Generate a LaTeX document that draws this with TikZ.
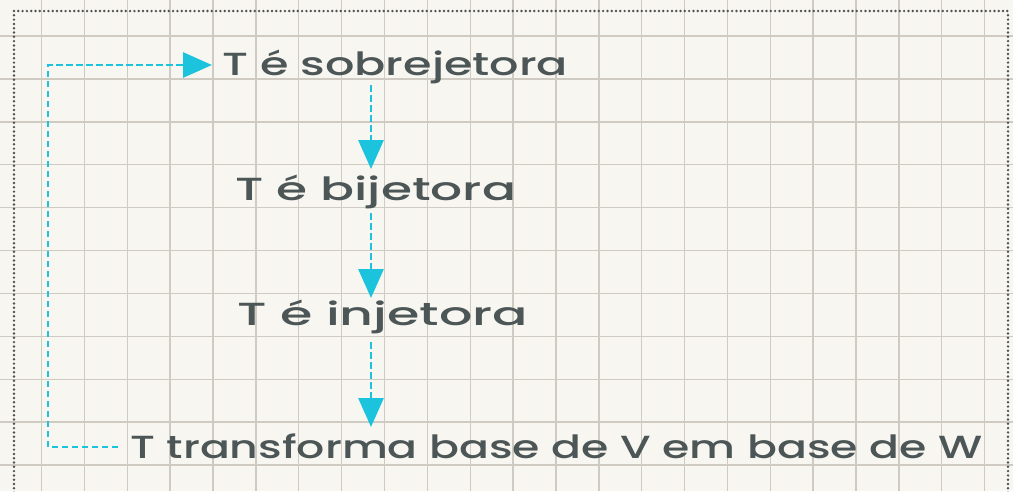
\documentclass[tikz,border=0pt]{standalone}
\usepackage{fontspec}
\usetikzlibrary{arrows.meta}
\newfontfamily\handfont{Poppins Medium}
% stretch a line of text to a given width, keeping its height
\newcommand{\handline}[2]{\resizebox{#1}{\height}{#2}}
\definecolor{paper}{HTML}{F8F6F1}
\definecolor{gridline}{HTML}{CFCAC2}
\definecolor{ink}{HTML}{4C5656}
\definecolor{flowcyan}{HTML}{1CC3DD}
\definecolor{bordergray}{HTML}{4D5353}
\tikzset{
  gridrule/.style={draw=gridline, line width=1.4pt},
  framedot/.style={fill=bordergray},
  hand/.style={inner sep=0pt, text=ink, font=\handfont\fontsize{32}{38}\selectfont},
  flow/.style={draw=flowcyan, line width=2.8pt, dash pattern=on 6.5pt off 3.5pt,
    -{Triangle[length=29pt,width=25pt,fill=flowcyan]}}
}
\begin{document}
\begin{tikzpicture}[x=1pt,y=-1pt]
  % paper
  \fill[paper] (0,0) rectangle (1013,491);
  \useasboundingbox (0,0) rectangle (1013,491);
  % squared ruling
  \foreach \i in {0,...,22} \draw[gridrule] ({41.5+42.87*\i},0) -- ++(0,491);
  \foreach \j in {0,...,10} \draw[gridrule] (0,{36+42.9*\j}) -- ++(1013,0);
  % dotted frame: top edge, then the two sides
  \foreach \k in {0,...,231} \fill[framedot] ({14+4.3*\k},11) circle (1.35);
  \foreach \k in {1,...,112} {
    \fill[framedot] (14,{11+4.3*\k}) circle (1.35);
    \fill[framedot] (1008,{11+4.3*\k}) circle (1.35);
  }

  % statements
  \node[hand, anchor=base west] (t1) at (222,75)  {\handline{346pt}{T é sobrejetora}};
  \node[hand, anchor=base west] (t2) at (235,200) {\handline{281pt}{T é bijetora}};
  \node[hand, anchor=base west] (t3) at (237,325) {\handline{291pt}{T é injetora}};
  \node[hand, anchor=base west] (t4) at (130,458) {\handline{852pt}{T transforma base de V em base de W}};

  % implications down the chain
  \draw[flow] ([xshift=149pt,yshift=-10pt]t1.base west) -- ([xshift=136pt,yshift=31pt]t2.base west);
  \draw[flow] ([xshift=136pt,yshift=-13pt]t2.base west) -- ([xshift=134pt,yshift=27pt]t3.base west);
  \draw[flow] ([xshift=134pt,yshift=-17pt]t3.base west) -- ([xshift=241pt,yshift=31pt]t4.base west);
  % loop back to the top
  \draw[flow] ([xshift=-12pt,yshift=11pt]t4.base west) -- ++(-70,0)
     |- ([xshift=-10pt,yshift=10pt]t1.base west);
\end{tikzpicture}
\end{document}
